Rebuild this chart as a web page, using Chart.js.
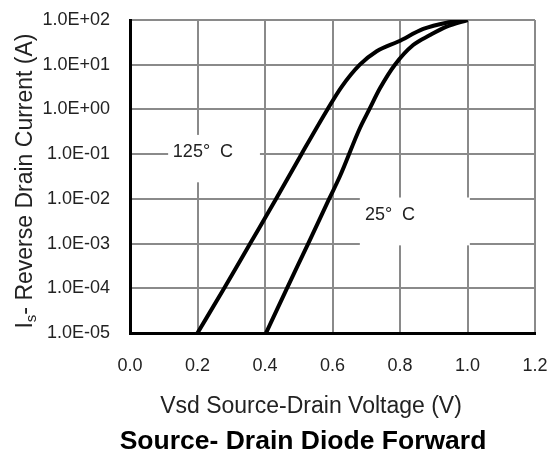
<!DOCTYPE html>
<html>
<head>
<meta charset="utf-8">
<script src="https://cdn.jsdelivr.net/npm/chart.js@4"></script>
<style>
html,body{margin:0;padding:0;background:#fff;}
canvas{display:block;}
</style>
</head>
<body>
<canvas id="c" width="555" height="454"></canvas>
<script>
// ---- data ----
const vsd125 = [0.2, 0.279, 0.356, 0.433, 0.508, 0.585, 0.627, 0.681, 0.731, 0.795, 0.869, 0.938, 1.0];
const is125  = [1e-5, 1e-4, 1e-3, 1e-2, 1e-1, 1, 3.2, 10, 20, 33, 63, 87, 100];
const vsd25  = [0.403, 0.465, 0.528, 0.590, 0.622, 0.681, 0.709, 0.741, 0.785, 0.839, 0.889, 0.938, 1.0];
const is25   = [1e-5, 1e-4, 1e-3, 1e-2, 0.032, 0.38, 1, 3.0, 10, 27.5, 46, 71, 100];
const seriesNames = ['125°  C', '25°  C'];
const xTickValues = [0, 0.2, 0.4, 0.6, 0.8, 1.0, 1.2];
const xTickLabels = ['0.0', '0.2', '0.4', '0.6', '0.8', '1.0', '1.2'];
const yTickValues = [1e-5, 1e-4, 1e-3, 1e-2, 1e-1, 1, 10, 100];
const yTickLabels = ['1.0E-05', '1.0E-04', '1.0E-03', '1.0E-02', '1.0E-01', '1.0E+00', '1.0E+01', '1.0E+02'];
const xTitle = 'Vsd Source-Drain Voltage (V)';
const yTitleMain = 'I';
const yTitleSub = 's';
const yTitleRest = '- Reverse Drain Current (A)';
const chartTitle = 'Source- Drain Diode Forward';

// label boxes placed in data units
const labelBoxes = [
  {text: seriesNames[0], x0: 0.113, x1: 0.385, yHi: Math.pow(10, -0.57), yLo: Math.pow(10, -1.63), tx: 0.127, ty: Math.pow(10, -0.96)},
  {text: seriesNames[1], x0: 0.681, x1: 1.007, yHi: Math.pow(10, -1.97), yLo: Math.pow(10, -3.04), tx: 0.696, ty: Math.pow(10, -2.36)}
];

const FONT = '"Liberation Sans", Arial, sans-serif';

const toPts = (xs, ys) => xs.map((x, i) => ({x: x, y: ys[i]}));

const bgPlugin = {
  id: 'bg',
  beforeDraw(chart) {
    const ctx = chart.ctx;
    ctx.save();
    ctx.fillStyle = '#ffffff';
    ctx.fillRect(0, 0, chart.width, chart.height);
    ctx.restore();
  }
};

const boxPlugin = {
  id: 'boxes',
  beforeDatasetsDraw(chart) {
    const ctx = chart.ctx;
    const xs = chart.scales.x, ys = chart.scales.y;
    ctx.save();
    labelBoxes.forEach(b => {
      const l = xs.getPixelForValue(b.x0), r = xs.getPixelForValue(b.x1);
      const t = ys.getPixelForValue(b.yHi), btm = ys.getPixelForValue(b.yLo);
      ctx.fillStyle = '#ffffff';
      ctx.fillRect(l, t, r - l, btm - t);
      ctx.fillStyle = '#222';
      ctx.font = '18px ' + FONT;
      ctx.textAlign = 'left';
      ctx.textBaseline = 'middle';
      ctx.fillText(b.text, xs.getPixelForValue(b.tx), ys.getPixelForValue(b.ty));
    });
    ctx.restore();
  }
};

const titlePlugin = {
  id: 'titles',
  afterDraw(chart) {
    const ctx = chart.ctx;
    ctx.save();
    ctx.fillStyle = '#222';
    ctx.textBaseline = 'alphabetic';
    ctx.textAlign = 'center';
    ctx.font = '23px ' + FONT;
    ctx.fillText(xTitle, 311, 413);
    ctx.fillStyle = '#000';
    ctx.font = 'bold 26.5px ' + FONT;
    ctx.fillText(chartTitle, 303, 449);

    // rotated y title with subscript
    ctx.fillStyle = '#222';
    const big = '23px ' + FONT, small = '15px ' + FONT;
    ctx.font = big;
    const w1 = ctx.measureText(yTitleMain).width;
    const w3 = ctx.measureText(yTitleRest).width;
    ctx.font = small;
    const w2 = ctx.measureText(yTitleSub).width;
    const total = w1 + w2 + w3;
    ctx.translate(32, 181);
    ctx.rotate(-Math.PI / 2);
    ctx.textAlign = 'left';
    let x = -total / 2;
    ctx.font = big;
    ctx.fillText(yTitleMain, x, 0);
    x += w1;
    ctx.font = small;
    ctx.fillText(yTitleSub, x, 4);
    x += w2;
    ctx.font = big;
    ctx.fillText(yTitleRest, x, 0);
    ctx.restore();
  }
};

new Chart(document.getElementById('c'), {
  type: 'scatter',
  data: {
    datasets: [
      {label: seriesNames[0], data: toPts(vsd125, is125), showLine: true, borderColor: '#000', borderWidth: 4, pointRadius: 0, cubicInterpolationMode: 'monotone', fill: false},
      {label: seriesNames[1], data: toPts(vsd25, is25), showLine: true, borderColor: '#000', borderWidth: 4, pointRadius: 0, cubicInterpolationMode: 'monotone', fill: false}
    ]
  },
  options: {
    responsive: false,
    animation: false,
    layout: {padding: {left: 0, top: 20, right: 20, bottom: 0}},
    plugins: {legend: {display: false}, tooltip: {enabled: false}, title: {display: false}},
    scales: {
      x: {
        type: 'linear', min: 0, max: 1.2,
        afterBuildTicks: s => { s.ticks = xTickValues.map(v => ({value: v})); },
        afterFit: s => { s.height = 121; s.paddingLeft = 0; s.paddingRight = 0; s.paddingTop = 0; s.paddingBottom = 0; },
        ticks: {
          padding: 22, color: '#222', font: {family: FONT, size: 18},
          maxRotation: 0, autoSkip: false,
          callback: (v, i) => xTickLabels[i]
        },
        grid: {color: '#8a8a8a', lineWidth: 2, drawTicks: false},
        border: {color: '#000', width: 3}
      },
      y: {
        type: 'logarithmic', min: 1e-5, max: 100,
        afterBuildTicks: s => { s.ticks = yTickValues.map(v => ({value: v})); },
        afterFit: s => { s.width = 130; s.paddingLeft = 0; s.paddingRight = 0; s.paddingTop = 0; s.paddingBottom = 0; },
        ticks: {
          padding: 20, color: '#222', font: {family: FONT, size: 18},
          autoSkip: false,
          callback: (v, i) => yTickLabels[i]
        },
        grid: {color: '#8a8a8a', lineWidth: 2, drawTicks: false},
        border: {color: '#000', width: 3}
      }
    }
  },
  plugins: [bgPlugin, boxPlugin, titlePlugin]
});
</script>
</body>
</html>
